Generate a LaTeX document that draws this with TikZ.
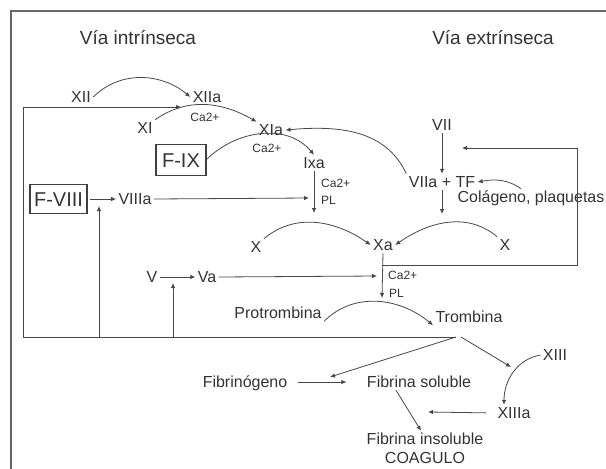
\documentclass[tikz,border=0pt]{standalone}
\usepackage{fontspec}
\setmainfont{Liberation Sans}
\usetikzlibrary{arrows.meta}
\tikzset{
    fac/.style={font=\fontsize{16}{18}\selectfont, text=black!80,
    text height=11.5pt, text depth=0pt, inner sep=1pt, outer sep=1.5pt},
    ion/.style={font=\fontsize{12}{13}\selectfont, text=black!80,
    text height=8.6pt, text depth=0pt, inner sep=0pt},
    pathtitle/.style={font=\fontsize{19}{21}\selectfont, text=black!80,
    text height=13.7pt, text depth=0pt, inner sep=1pt},
    factorbox/.style={draw=black!75, line width=1.3pt, font=\fontsize{20}{22}\selectfont,
    text=black!80, text height=14.3pt, text depth=0pt, inner sep=0pt, outer sep=0pt},
    link/.style={draw=black!72, line width=0.8pt},
}

\begin{document}
\begin{tikzpicture}[
            x=1pt, y=-1pt,
            >={Latex[length=5pt, width=4.5pt]},
        ]
            \useasboundingbox (0,0) rectangle (606,469);
            % frame
            \draw[black!60, line width=1.2pt] (606,11) -- (11,11) -- (11,469);
            % titles
            \node[pathtitle] (tint) at (138,38) {Vía intrínseca};
            \node[pathtitle] (text) at (493,38) {Vía extrínseca};
            % intrinsic factors
            \node[fac] (xii) at (81,97) {XII};
            \node[fac] (xiia) at (207,97) {XIIa};
            \node[fac] (xi) at (145,128) {XI};
            \node[fac] (xia) at (271,130) {XIa};
            \node[factorbox, minimum width=50pt, minimum height=31pt] (fix) at (181,160) {F-IX};
            \node[fac] (ixa) at (314,163) {Ixa};
            \node[factorbox, minimum width=57pt, minimum height=29pt] (fviii) at (58.5,199) {F-VIII};
            \node[fac] (viiia) at (135,199) {VIIIa};
            % extrinsic factors
            \node[fac] (vii) at (442,125) {VII};
            \node[fac] (viiatf) at (442,182) {VIIa + TF};
            \node[fac] (colageno) at (531,197) {Colágeno, plaquetas};
            % common path
            \node[fac] (xl) at (256,247) {X};
            \node[fac] (xa) at (383,245) {Xa};
            \node[fac] (xr) at (505,245) {X};
            \node[fac] (v) at (152,277) {V};
            \node[fac] (va) at (207,277) {Va};
            \node[fac] (protrombina) at (278,313) {Protrombina};
            \node[fac] (trombina) at (469,317) {Trombina};
            \node[fac] (xiii) at (555,355) {XIII};
            \node[fac] (fibrinogeno) at (245,382) {Fibrinógeno};
            \node[fac] (fsoluble) at (419,382) {Fibrina soluble};
            \node[fac] (xiiia) at (514,413) {XIIIa};
            \node[fac] (finsol) at (425,439) {Fibrina insoluble};
            \node[fac] (coag) at (425,458) {COAGULO};
            % cofactor labels
            \node[ion] (ca1) at (205,117) {Ca2+};
            \node[ion] (ca2) at (267,148) {Ca2+};
            \node[ion, anchor=west] (ca3) at (321,183) {Ca2+};
            \node[ion, anchor=west] (pl1) at (321,200) {PL};
            \node[ion, anchor=west] (ca4) at (388,275) {Ca2+};
            \node[ion, anchor=west] (pl2) at (389,293) {PL};
            % free ends
            \coordinate (fbend) at (181,107);
            \coordinate (fbcorner) at (23,107);
            \coordinate (tr) at (456,337);
            \coordinate (f8tip) at (99,206);
            \coordinate (vtip) at (173,283);
            \coordinate (ixtip) at (314,213);
            \coordinate (viiiatip) at (309,198);
            \coordinate (vatip) at (377,276);
            \coordinate (xatip) at (382,298);
            \coordinate (xaloop) at (382,265);
            \coordinate (viitip) at (462,148);
            \coordinate (viiatip) at (442,214);
            \coordinate (fgtip) at (330,377);
            \coordinate (xiiitip) at (511,367);
            \coordinate (fitip) at (428,412);
            % activation arcs
            \draw[link, ->] (xii.east) to[out=45, in=140] (xiia.west);
            \draw[link, ->] (xi.north east) to[out=35, in=150] (xia.north west);
            \draw[link, ->] (fix.east) to[out=45, in=130] (ixa.north);
            \draw[link, ->] (viiatf.north west) to[out=115, in=5] (xia.east);
            \draw[link, ->] (xl.north east) to[out=40, in=145] (xa.west);
            \draw[link, ->] (xr.north west) to[out=140, in=35] (xa.east);
            \draw[link, ->] (protrombina.south east) to[out=45, in=140] (trombina.south west);
            \draw[link, ->] (xiii.west) to[out=190, in=90] ([xshift=-10pt]xiiia.north);
            \draw[link, ->] ([xshift=-10pt]colageno.north) to[out=145, in=10] (viiatf.east);
            % straight arrows
            \draw[link, ->, shorten <=3pt] (fviii.east) -- (viiia.west);
            \draw[link, ->] (viiia.east) -- (viiiatip);
            \draw[link, ->] (ixa.south) -- (ixtip);
            \draw[link, ->] (vii.south) -- (viiatf.north);
            \draw[link, ->] (viiatf.south) -- (viiatip);
            \draw[link, ->] (v.east) -- (va.west);
            \draw[link, ->] (va.east) -- (vatip);
            \draw[link, ->] (xa.south) -- (xatip);
            \draw[link, ->] (xaloop) -- ++(195,0) |- (viitip);
            \draw[link, ->, shorten <=8pt, shorten >=18pt] (fibrinogeno.east) -- (fsoluble.west);
            \draw[link, ->, shorten <=9pt] (xiiia.west) -- (fitip);
            \draw[link, ->] ([xshift=-23pt]fsoluble.south) -- ([xshift=-4pt]finsol.north);
            % thrombin feedback
            \draw[link, ->] (tr) -| (fbcorner) -- (fbend);
            \draw[link, ->] (f8tip |- tr) -- (f8tip);
            \draw[link, ->] (vtip |- tr) -- (vtip);
            \draw[link, ->] (tr) -- (fgtip);
            \draw[link, ->] ([xshift=5pt]tr) -- (xiiitip);
        \end{tikzpicture}
\end{document}
